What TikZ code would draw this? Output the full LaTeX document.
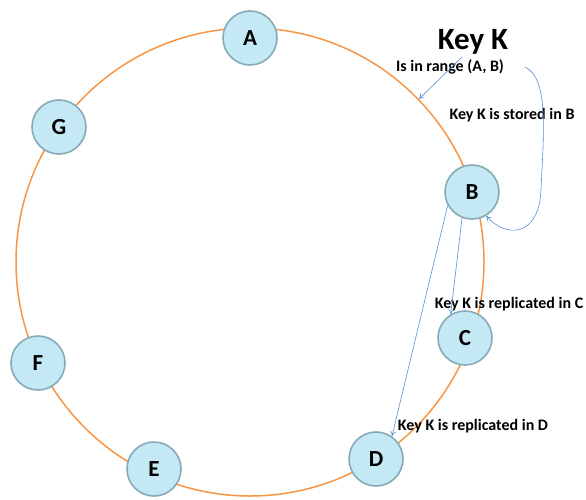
\documentclass[tikz,border=0pt]{standalone}
\usepackage{fontspec}
\setmainfont{Carlito}
\usetikzlibrary{arrows.meta}
\definecolor{ringorange}{HTML}{F79646}
\definecolor{arrowblue}{HTML}{5B8FD4}
\definecolor{ballfill}{HTML}{C4E9F5}
\definecolor{ballrim}{HTML}{86ABB8}
\tikzset{
  ball/.style={circle, minimum size=54pt, inner sep=0pt, fill=ballfill, draw=ballrim,
    line width=1.6pt, font=\fontsize{23}{23}\selectfont\bfseries},
  lbl/.style={inner sep=0pt, anchor=base, font=\fontsize{16}{16}\selectfont\bfseries},
  conn/.style={draw=arrowblue, line width=0.6pt, -{To[length=5pt,width=6pt]}},
  ring/.style={draw=ringorange, line width=1.5pt}
}
\begin{document}
\begin{tikzpicture}[x=1pt,y=-1pt]
\useasboundingbox (0,0) rectangle (586,500);
\fill[white] (0,0) rectangle (586,500);
\draw[ring] (250,262) circle[radius=234];
\node[ball] (A) at (250,38) {A};
\node[ball] (G) at (59,127) {G};
\node[ball] (F) at (38,363) {F};
\node[ball] (E) at (154,469) {E};
\node[ball] (D) at (376,459) {D};
\node[ball] (C) at (465,338) {C};
\node[ball] (B) at (472,192) {B};
\node[inner sep=0pt, anchor=base, font=\fontsize{31}{31}\selectfont\bfseries] (kk) at (473,50) {Key K};
\node[lbl] (range) at (450,72) {Is in range (A, B)};
\node[lbl] (stored) at (512,120) {Key K is stored in B};
\node[lbl] (repC) at (509,308) {Key K is replicated in C};
\node[lbl] (repD) at (473,430) {Key K is replicated in D};
\coordinate (s1) at (462,57);
\coordinate (e1) at (419,99);
\coordinate (s2) at (525,67);
\draw[conn] (s1) -- (e1);
\draw[conn] (s2) .. controls (550,78) and (543,140) .. (541,190)
  .. controls (539,238) and (505,238) .. (B.-59);
\draw[conn] (B.-111) -- (C.121);
\draw[conn] (B.-151) -- (D.55);
\end{tikzpicture}
\end{document}
